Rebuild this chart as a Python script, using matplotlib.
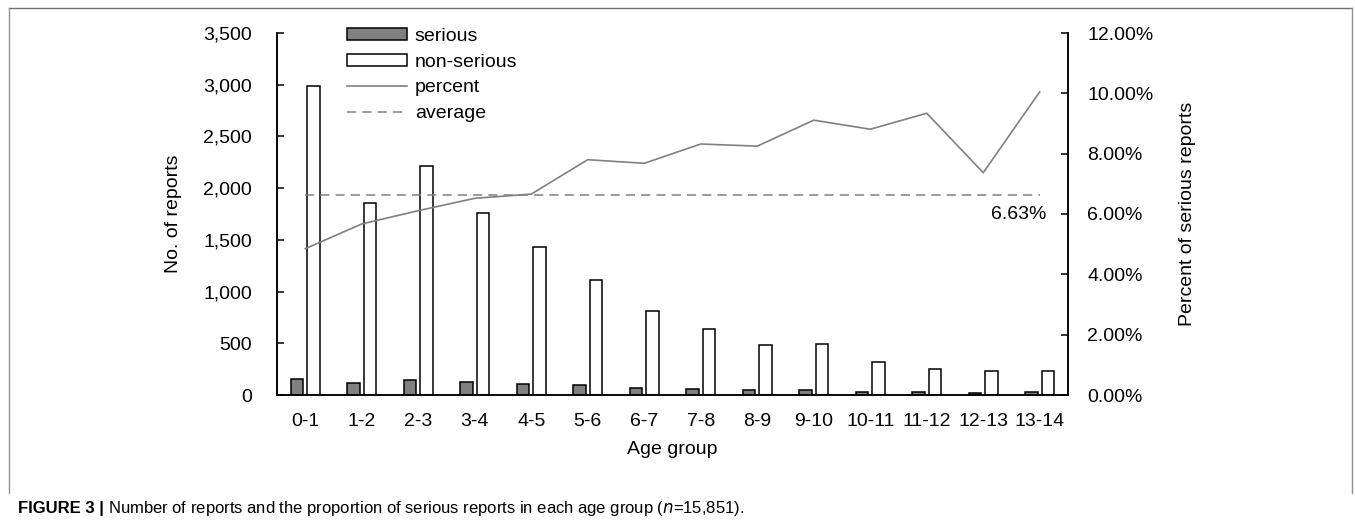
import matplotlib
matplotlib.use("Agg")
import matplotlib.pyplot as plt
from matplotlib.lines import Line2D
import numpy as np

plt.rcParams["font.family"] = ["Liberation Sans", "DejaVu Sans"]

# data
age_groups = ["0-1", "1-2", "2-3", "3-4", "4-5", "5-6", "6-7", "7-8",
              "8-9", "9-10", "10-11", "11-12", "12-13", "13-14"]
serious = [152, 112, 144, 123, 102, 94, 68, 58, 44, 49, 31, 26, 18, 26]
non_serious = [2985, 1855, 2213, 1758, 1432, 1116, 810, 635, 484, 490,
               316, 251, 229, 229]
percent = [4.85, 5.67, 6.11, 6.52, 6.66, 7.80, 7.68, 8.32, 8.25, 9.11,
           8.81, 9.34, 7.37, 10.05]
average = 6.63

W, H = 1355, 527
fig = plt.figure(figsize=(W / 100, H / 100), dpi=100)

# plot area in pixels: x 277..1068, y 33..395
ax = fig.add_axes([277 / W, 1 - 395 / H, (1068 - 277) / W, (395 - 33) / H])
ax2 = ax.twinx()

x = np.arange(len(age_groups))
bw = 0.22
ax.bar(x - 0.145, serious, bw, color="#808080", edgecolor="black", linewidth=1.1,
       label="serious", zorder=2)
ax.bar(x + 0.145, non_serious, bw, color="white", edgecolor="black", linewidth=1.1,
       label="non-serious", zorder=2)

ax2.plot(x, percent, color="#808080", lw=1.2, label="percent")
ax2.plot(x, [average] * len(x), color="#808080", lw=1.1, dashes=(6, 4),
         label="average")
ax2.annotate(f"{average:.2f}%", xy=(x[-1], average), xytext=(5, -8),
             textcoords="offset points", ha="right", va="top", fontsize=14)

ax.set_xlim(-0.5, len(x) - 0.5)
ax.set_ylim(0, 3500)
ax2.set_ylim(0, 12)
ax.set_yticks(np.arange(0, 3501, 500))
ax.set_yticklabels([f"{v:,}" for v in range(0, 3501, 500)])
ax2.set_yticks(np.arange(0, 12.1, 2))
ax2.set_yticklabels([f"{v:.2f}%" for v in np.arange(0, 12.1, 2)])
ax.set_xticks(x)
ax.set_xticklabels(age_groups)

for a in (ax, ax2):
    a.spines["top"].set_visible(False)
    for s in ("left", "right", "bottom"):
        a.spines[s].set_linewidth(1.1)
ax.tick_params(axis="y", direction="in", length=5, width=1.1, pad=18, labelsize=14)
ax2.tick_params(axis="y", direction="in", length=5, width=1.1, pad=14, labelsize=14)
ax.tick_params(axis="x", length=0, pad=13, labelsize=14)

ax.set_xlabel("Age group", fontsize=14, labelpad=8)
ax.set_ylabel("No. of reports", fontsize=14)
ax2.set_ylabel("Percent of serious reports", fontsize=14)
ax.yaxis.set_label_coords(-0.1195, 0.5)
ax2.yaxis.set_label_coords(1.1397, 0.5)

h1, l1 = ax.get_legend_handles_labels()
h2, l2 = ax2.get_legend_handles_labels()
fig.legend(h1 + h2, l1 + l2, loc="upper left",
           bbox_to_anchor=(347 / W, 1 - 28 / H), frameon=False, fontsize=14,
           handlelength=3.1, handleheight=0.55, handletextpad=0.38,
           labelspacing=0.45, borderpad=0, borderaxespad=0)

# outer frame of the figure panel
fig.add_artist(Line2D([9 / W, 1352 / W], [1 - 8 / H, 1 - 8 / H], color="#707070",
                      lw=1.0, transform=fig.transFigure))
fig.add_artist(Line2D([9 / W, 9 / W], [1 - 8 / H, 1 - 493 / H], color="#909090",
                      lw=1.0, transform=fig.transFigure))
fig.add_artist(Line2D([1352 / W, 1352 / W], [1 - 8 / H, 1 - 493 / H], color="#909090",
                      lw=1.0, transform=fig.transFigure))

# caption
t1 = fig.text(18 / W, 1 - 508 / H, "FIGURE 3 |", fontsize=12, fontweight="bold",
              va="center", ha="left")
fig.canvas.draw()
bb = t1.get_window_extent(fig.canvas.get_renderer())
fig.text((bb.x1 + 4) / W, 1 - 508 / H,
         "Number of reports and the proportion of serious reports in each age group "
         "($\\it{n}$=15,851).",
         fontsize=12, va="center", ha="left")

fig.savefig("out.png", dpi=100)
